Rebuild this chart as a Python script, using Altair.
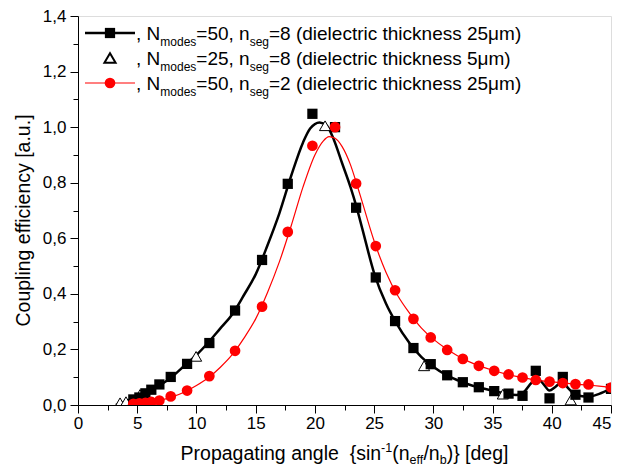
import altair as alt
import pandas as pd

# ---------------- data ----------------
# N_modes=50, n_seg=8 (25 um) : black squares
sq_x = [4.67, 5.18, 5.69, 6.19, 6.87, 7.83, 9.21, 11.09, 13.26, 15.54,
        17.71, 19.79, 21.70, 23.48, 25.14, 26.77, 28.32, 29.78, 31.17, 32.49,
        33.84, 35.14, 36.35, 37.53, 38.65, 39.81, 40.93, 42.00, 43.10, 45.00]
sq_y = [0.020, 0.027, 0.042, 0.055, 0.074, 0.101, 0.148, 0.223, 0.340, 0.522,
        0.796, 1.048, 1.000, 0.710, 0.459, 0.302, 0.205, 0.147, 0.107, 0.082,
        0.064, 0.050, 0.041, 0.033, 0.123, 0.024, 0.101, 0.037, 0.027, 0.058]
# N_modes=50, n_seg=2 (25 um) : red circles
ci_x = sq_x
ci_y = [0.004, 0.006, 0.008, 0.011, 0.016, 0.031, 0.052, 0.104, 0.195, 0.354,
        0.623, 0.933, 1.000, 0.797, 0.572, 0.413, 0.310, 0.243, 0.198, 0.166,
        0.141, 0.123, 0.110, 0.099, 0.090, 0.084, 0.079, 0.075, 0.074, 0.063]
# N_modes=25, n_seg=8 (5 um) : open triangles
tr_x = [3.55, 4.05, 5.24, 9.97, 20.86, 29.22, 35.87, 41.60]
tr_y = [0.008, 0.012, 0.038, 0.175, 1.005, 0.141, 0.039, 0.018]
# smooth curves drawn through the black and red series
bk_cx = [3.2, 4.0, 5.0, 6.0, 7.0, 8.0, 9.0, 10.0, 11.0, 12.0,
         13.0, 14.0, 15.0, 16.0, 17.0, 18.0, 19.0, 19.6, 20.4, 21.0,
         21.6, 22.3, 23.0, 23.5, 24.0, 25.0, 26.0, 26.8, 28.0, 29.0,
         30.0, 31.0, 32.0, 33.0, 34.0, 35.0, 36.0, 37.0, 37.6, 38.3,
         38.8, 39.3, 39.8, 40.3, 40.9, 41.4, 42.0, 43.1, 44.0, 45.0]
bk_cy = [0.0, 0.012, 0.030, 0.050, 0.073, 0.104, 0.142, 0.180, 0.225, 0.275,
         0.325, 0.395, 0.470, 0.575, 0.690, 0.825, 0.945, 0.995, 1.017, 1.005,
         0.955, 0.870, 0.785, 0.715, 0.635, 0.475, 0.365, 0.300, 0.222, 0.172,
         0.138, 0.110, 0.090, 0.074, 0.062, 0.051, 0.042, 0.036, 0.045, 0.080,
         0.095, 0.075, 0.052, 0.065, 0.084, 0.060, 0.037, 0.030, 0.040, 0.060]
rd_cx = [4.2, 5, 6, 7, 8, 9, 10, 11, 12, 13,
         14, 15, 16, 17, 18, 19, 20, 20.7, 21.2, 21.7,
         22.3, 23, 23.5, 24, 25, 26, 27, 28, 29, 30,
         31, 32, 33, 34, 35, 36, 37, 38, 39, 40,
         41, 42, 43, 44, 45]
rd_cy = [0.0, 0.004, 0.009, 0.017, 0.030, 0.047, 0.070, 0.098, 0.135, 0.180,
         0.240, 0.310, 0.405, 0.515, 0.645, 0.785, 0.900, 0.950, 0.966, 0.960,
         0.930, 0.865, 0.800, 0.730, 0.590, 0.478, 0.393, 0.330, 0.277, 0.237,
         0.205, 0.178, 0.156, 0.139, 0.125, 0.113, 0.103, 0.095, 0.088, 0.083,
         0.079, 0.075, 0.072, 0.068, 0.063]

x_ticks = [i * 2.5 for i in range(19)]
y_ticks = [round(i * 0.1, 1) for i in range(15)]

# text pieces: kind 0 = normal, 1 = subscript, 2 = superscript, 3 = gap (spaces)
legend_rows = [
    [(", N", 0), ("modes", 1), ("=50, n", 0), ("seg", 1), ("=8 (dielectric thickness 25\u03bcm)", 0)],
    [(", N", 0), ("modes", 1), ("=25, n", 0), ("seg", 1), ("=8 (dielectric thickness 5\u03bcm)", 0)],
    [(", N", 0), ("modes", 1), ("=50, n", 0), ("seg", 1), ("=2 (dielectric thickness 25\u03bcm)", 0)],
]
x_title = [("Propagating angle", 0), ("  ", 3), ("{sin", 0), ("-1", 2), ("(n", 0), ("eff", 1),
           ("/n", 0), ("b", 1), (")}", 0), (" ", 3), ("[deg]", 0)]
y_title = "Coupling efficiency [a.u.]"

# ---------------- layout ----------------
FONT = "Liberation Sans"
PW, PH = 533, 389
PAD = {"left": 70, "top": 8, "right": 1, "bottom": 63}
OX, OY = 8 + PAD["left"], 8 + PAD["top"]   # page position of plot origin

W = {' ': 278, ',': 278, '.': 278, '=': 584, '(': 333, ')': 333, '{': 334, '}': 334,
     '[': 278, ']': 278, '/': 278, '-': 333, '\u03bc': 576,
     'a': 556, 'b': 556, 'c': 500, 'd': 556, 'e': 556, 'f': 278, 'g': 556, 'h': 556,
     'i': 222, 'j': 222, 'k': 500, 'l': 222, 'm': 833, 'n': 556, 'o': 556, 'p': 556,
     'q': 556, 'r': 333, 's': 500, 't': 278, 'u': 556, 'v': 500, 'w': 722, 'x': 500,
     'y': 500, 'z': 500, 'N': 722, 'P': 667, 'C': 722}


def tw(s, size):
    return sum(W.get(c, 556) for c in s) / 1000.0 * size


def txt(s, px, py, size, angle=0, align="left", baseline="alphabetic", color="black"):
    return alt.Chart(alt.Data(values=[{}])).mark_text(
        text=s, font=FONT, fontSize=size, align=align, baseline=baseline,
        angle=angle, color=color
    ).encode(x=alt.value(px - OX), y=alt.value(py - OY))


def piece_size(kind, size, small):
    return size if kind in (0, 3) else small


def rich(pieces, start_x, base_y, size, small, sub_dy, sup_dy):
    layers = []
    x = start_x
    for s, kind in pieces:
        fs = piece_size(kind, size, small)
        if kind == 0:
            layers.append(txt(s, x, base_y, fs))
        elif kind == 1:
            layers.append(txt(s, x, base_y + sub_dy, fs))
        elif kind == 2:
            layers.append(txt(s, x, base_y - sup_dy, fs))
        x += tw(s, fs)
    return layers


def rich_width(pieces, size, small):
    return sum(tw(s, piece_size(k, size, small)) for s, k in pieces)


xs = alt.Scale(domain=[0, 45], nice=False, zero=False)
ys = alt.Scale(domain=[0, 1.4], nice=False, zero=False)

LBL = 17
x_axis = alt.Axis(
    values=x_ticks, title=None, grid=False,
    labelExpr="datum.value % 5 === 0 ? format(datum.value, 'd') : ''",
    tickSize={"condition": {"test": "datum.value % 5 === 0", "value": 8}, "value": 5},
    labelAlign={"condition": {"test": "datum.value === 45", "value": "right"}, "value": "center"},
    labelFlush=False, labelBound=False,
    labelPadding=2, labelFont=FONT, labelFontSize=LBL, labelColor="black",
    domainColor="black", tickColor="black",
)
y_axis = alt.Axis(
    values=y_ticks, title=None, grid=False,
    labelExpr="round(datum.value * 10) % 2 === 0 ? replace(format(datum.value, '.1f'), '.', ',') : ''",
    tickSize={"condition": {"test": "round(datum.value * 10) % 2 === 0", "value": 8}, "value": 5},
    labelFlush=False,
    labelPadding=4, labelFont=FONT, labelFontSize=LBL, labelColor="black",
    domainColor="black", tickColor="black",
)

df_sq = pd.DataFrame({"x": sq_x, "y": sq_y})
df_ci = pd.DataFrame({"x": ci_x, "y": ci_y})
df_tr = pd.DataFrame({"x": tr_x, "y": tr_y})
df_bk = pd.DataFrame({"x": bk_cx, "y": bk_cy})
df_rd = pd.DataFrame({"x": rd_cx, "y": rd_cy})

enc = dict(x=alt.X("x:Q", scale=xs, axis=x_axis), y=alt.Y("y:Q", scale=ys, axis=y_axis))

SQ, TRI, CIR = 105, 125, 115
black_line = alt.Chart(df_bk).mark_line(color="black", strokeWidth=2.5, interpolate="monotone", clip=True).encode(**enc)
black_pts = alt.Chart(df_sq).mark_point(shape="square", filled=True, color="black", size=SQ, opacity=1, clip=True).encode(**enc)
tri_pts = alt.Chart(df_tr).mark_point(shape="triangle-up", fill="white", stroke="black", strokeWidth=1, size=TRI, opacity=1, clip=True).encode(**enc)
red_line = alt.Chart(df_rd).mark_line(color="#ff0000", strokeWidth=1.2, interpolate="monotone", clip=True).encode(**enc)
red_pts = alt.Chart(df_ci).mark_point(shape="circle", filled=True, color="#ff0000", size=CIR, opacity=1, clip=True).encode(**enc)

layers = [black_line, tri_pts, black_pts, red_line, red_pts]

# legend
row_y = [33, 58, 83]
LX0, LX1 = 85, 135
sym = [
    ("black", "square", True, 2.5),
    ("black", "triangle-up", False, 0),
    ("#ff0000", "circle", True, 1.2),
]
for ry, (col, shp, has_line, lw) in zip(row_y, sym):
    if has_line:
        layers.append(alt.Chart(alt.Data(values=[{}])).mark_rule(color=col, strokeWidth=lw).encode(
            x=alt.value(LX0 - OX), x2=alt.value(LX1 - OX), y=alt.value(ry - OY)))
    if shp == "triangle-up":
        layers.append(alt.Chart(alt.Data(values=[{}])).mark_point(shape=shp, fill="white", stroke="black", size=TRI, opacity=1).encode(
            x=alt.value((LX0 + LX1) / 2 - OX), y=alt.value(ry - OY)))
    else:
        layers.append(alt.Chart(alt.Data(values=[{}])).mark_point(shape=shp, filled=True, color=col, size=SQ if shp == "square" else CIR, opacity=1).encode(
            x=alt.value((LX0 + LX1) / 2 - OX), y=alt.value(ry - OY)))
for ry, pieces in zip(row_y, legend_rows):
    layers += rich(pieces, 136, ry + 7, 19, 12, 6, 8)

# axis titles
TS, TSS = 19.5, 12.5
xw = rich_width(x_title, TS, TSS)
layers += rich(x_title, OX + PW / 2 - xw / 2, 460, TS, TSS, 4, 8)
layers.append(txt(y_title, 24, OY + PH / 2 + 10, TS, angle=270, align="center", baseline="middle"))

chart = alt.layer(*layers).properties(
    width=PW, height=PH,
    autosize=alt.AutoSizeParams(type="none"),
    padding=PAD,
).configure_view(stroke="black", strokeWidth=1).configure(background="white")

chart.save("out.html", embed_options={"renderer": "svg", "actions": False})
